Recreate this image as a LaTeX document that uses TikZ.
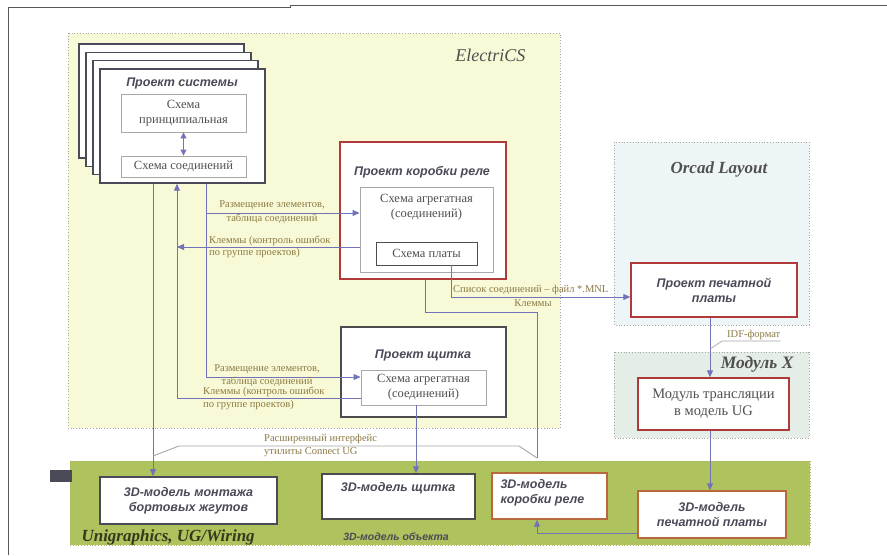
\documentclass[tikz,border=0pt]{standalone}
\usepackage{fontspec}
\setmainfont{Liberation Serif}
\newfontfamily\sansf{Liberation Sans}
\usetikzlibrary{arrows.meta}
\definecolor{ybg}{HTML}{F8F9D6}
\definecolor{bbg}{HTML}{EEF5F7}
\definecolor{gbg}{HTML}{E5EEE6}
\definecolor{olivebg}{HTML}{AEC25E}
\definecolor{arrc}{HTML}{7272B8}
\definecolor{labc}{HTML}{8C7A44}
\definecolor{redb}{HTML}{B03A3A}
\definecolor{orangeb}{HTML}{B8683A}
\definecolor{darkb}{HTML}{4A4A58}
\definecolor{grayb}{HTML}{A8A8A8}
\definecolor{textg}{HTML}{505050}
\tikzset{
  region/.style={draw=gray!70, dotted, line width=0.8pt},
  boxw/.style={draw, fill=white, line width=1.4pt, inner sep=0pt},
  innerbox/.style={draw=grayb, fill=white, line width=0.9pt, inner sep=0pt},
  title/.style={font=\sansf\bfseries\itshape\fontsize{12.5}{15}\selectfont, text=darkb, align=center},
  stext/.style={font=\fontsize{12.5}{15}\selectfont, text=textg, align=center},
  lab/.style={font=\fontsize{10.5}{11}\selectfont, text=labc, inner sep=0pt},
  arr/.style={draw=arrc, line width=0.9pt, -{Triangle[length=7pt,width=6pt]}},
  ln/.style={draw=arrc, line width=0.9pt},
}
\begin{document}
\begin{tikzpicture}[x=1pt,y=-1pt]
\useasboundingbox (0,0) rectangle (887,555);
\fill[white] (0,0) rectangle (887,555);
% outer frame
\draw[gray!70!black, line width=1pt] (8,555) -- (8,7) -- (290,7) -- (290,5.5) -- (887,5.5);
% regions
\filldraw[region, fill=ybg] (68,33) rectangle (560,428);
\node[font=\itshape\fontsize{18}{20}\selectfont, text=textg, anchor=east] (ecs) at (529,55) {ElectriCS};
\filldraw[region, fill=bbg] (614,142) rectangle (809,325);
\node[font=\bfseries\itshape\fontsize{17}{19}\selectfont, text=textg] (orc) at (719,169) {Orcad Layout};
\filldraw[region, fill=gbg] (614,352) rectangle (809,438);
\node[font=\bfseries\itshape\fontsize{17.5}{19}\selectfont, text=textg, anchor=east] (modx) at (797,364) {Модуль X};
\filldraw[region, fill=olivebg, draw=olivebg!80!gray] (70,461) rectangle (810,545);
\fill[darkb] (50,470) rectangle (72,482);
\node[font=\bfseries\itshape\fontsize{17}{19}\selectfont, text=black!70!olivebg, anchor=west] (ug) at (78,537) {Unigraphics, UG/Wiring};
\node[font=\sansf\bfseries\itshape\fontsize{10.5}{12}\selectfont, text=darkb] (obj) at (396,537) {3D-модель объекта};
% system project stack
\foreach \dx/\dy in {0/0,7/8.3,14/16.6} {
  \filldraw[draw=darkb, fill=white, line width=1.4pt] (79+\dx,44+\dy) rectangle (244+\dx,158+\dy);
}
\node[boxw, draw=darkb, minimum width=165pt, minimum height=114pt] (sys) at (182.5,126) {};
\node[title] (systitle) at (182,83) {Проект системы};
\node[innerbox, minimum width=125pt, minimum height=38pt, stext] (princ) at (183.5,113) {Схема\\принципиальная};
\node[innerbox, minimum width=125pt, minimum height=21pt, stext] (conn) at (183.5,166.5) {Схема соединений};
% relay project
\node[boxw, draw=redb, minimum width=166pt, minimum height=137pt] (relay) at (423,210.5) {};
\node[title] (relaytitle) at (422,172) {Проект коробки реле};
\node[innerbox, minimum width=133pt, minimum height=85pt] (relin) at (426.5,229.5) {};
\node[stext] (reltxt) at (426.5,207) {Схема агрегатная\\(соединений)};
\node[draw=gray!60!black, fill=white, line width=0.9pt, minimum width=101pt, minimum height=23pt, inner sep=0pt, stext] (plata) at (426.5,253.5) {Схема платы};
% panel project
\node[boxw, draw=gray!60!black, minimum width=165pt, minimum height=90pt] (panel) at (423.5,372) {};
\node[title] (paneltitle) at (423,355) {Проект щитка};
\node[innerbox, minimum width=125pt, minimum height=35pt, stext] (panin) at (423.5,387.5) {Схема агрегатная\\(соединений)};
% orcad pcb
\node[boxw, draw=redb, minimum width=166pt, minimum height=54pt, title] (pcb) at (714,290) {Проект печатной\\платы};
% translation
\node[boxw, draw=redb, minimum width=151pt, minimum height=52pt, stext, font=\fontsize{14.5}{17}\selectfont] (trans) at (713.5,404) {Модуль трансляции\\в модель UG};
% bottom boxes
\node[boxw, draw=darkb, line width=1.8pt, minimum width=177pt, minimum height=47pt, title] (wiring) at (188.5,500.5) {3D-модель монтажа\\бортовых жгутов};
\node[boxw, draw=gray!60!black, minimum width=153pt, minimum height=45pt] (pan3d) at (398.5,496.5) {};
\node[title] (pan3dtxt) at (398,488) {3D-модель щитка};
\node[boxw, draw=orangeb, minimum width=115pt, minimum height=46pt] (rel3d) at (549.5,496) {};
\node[title, align=left, anchor=west] (rel3dtxt) at (497,493) {3D-модель\\коробки реле};
\node[boxw, draw=orangeb, minimum width=148pt, minimum height=47pt, title] (pcb3d) at (712,514.5) {3D-модель\\печатной платы};
% helper x coordinates
\coordinate (xa) at (153,0);
\coordinate (xb) at (177,0);
\coordinate (xc) at (206,0);
\coordinate (xd) at (451,0);
\coordinate (xe) at (425,0);
\coordinate (xf) at (537,0);
\coordinate (xg) at (416,0);
\coordinate (xh) at (710,0);
\coordinate (ya) at (0,213);
\coordinate (yb) at (0,247);
\coordinate (yc) at (0,377);
\coordinate (yd) at (0,398);
\coordinate (ye) at (0,297);
\coordinate (yf) at (0,312);
\coordinate (yg) at (0,533);
\coordinate (bend) at (537,458);
% connectors
\draw[draw=arrc, line width=0.9pt, {Triangle[length=6pt,width=6pt]}-{Triangle[length=6pt,width=6pt]}] (princ.south) -- (conn.north);
\draw[arr] (sys.south -| xa) -- (wiring.north -| xa);
\draw[arr] (panin.west |- yd) -| (sys.south -| xb);
\draw[arr] (relin.west |- yb) -- (xb |- yb);
\draw[ln] (sys.south -| xc) -- (xc |- yc);
\draw[arr] (xc |- yc) -- (panin.west |- yc);
\draw[arr] (xc |- ya) -- (relin.west |- ya);
\draw[arr] (plata.south -| xd) -- (xd |- ye) -- (pcb.west |- ye);
\draw[ln] (relay.south -| xe) -- (xe |- yf) -| (bend);
\draw[gray!70, line width=0.9pt] (153,456) -- (179,446) -- (519,446) -- (bend);
\draw[arr] (panin.south -| xg) -- (pan3d.north -| xg);
\draw[arr] (pcb.south -| xh) -- (trans.north -| xh);
\draw[arr] (trans.south -| xh) -- (pcb3d.north -| xh);
\draw[arr] (pcb3d.west |- yg) -| (rel3d.south -| xf);
% labels
\node[lab, align=center] (l1) at (272,205) {Размещение элементов,};
\node[lab, align=center] (l2) at (272,219) {таблица соединений};
\node[lab, anchor=west] (l3) at (209,241) {Клеммы (контроль ошибок};
\node[lab, anchor=west] (l4) at (209,253) {по группе проектов)};
\node[lab, align=center] (l5) at (267,369) {Размещение элементов,};
\node[lab, align=center] (l6) at (267,382) {таблица соединений};
\node[lab, anchor=west] (l7) at (203,392) {Клеммы (контроль ошибок};
\node[lab, anchor=west] (l8) at (203,405) {по группе проектов)};
\node[lab, anchor=west] (l9) at (453,290) {Список соединений – файл *.MNL};
\node[lab] (l10) at (533,303) {Клеммы};
\node[lab, anchor=west] (l11) at (264,439) {Расширенный интерфейс};
\node[lab, anchor=west] (l12) at (264,452) {утилиты Connect UG};
\node[lab, anchor=west] (idf) at (727,335) {IDF-формат};
\draw[gray!70, line width=0.7pt] (710,349) -- (722,341) -- (idf.south east |- 0,341);
\end{tikzpicture}
\end{document}
